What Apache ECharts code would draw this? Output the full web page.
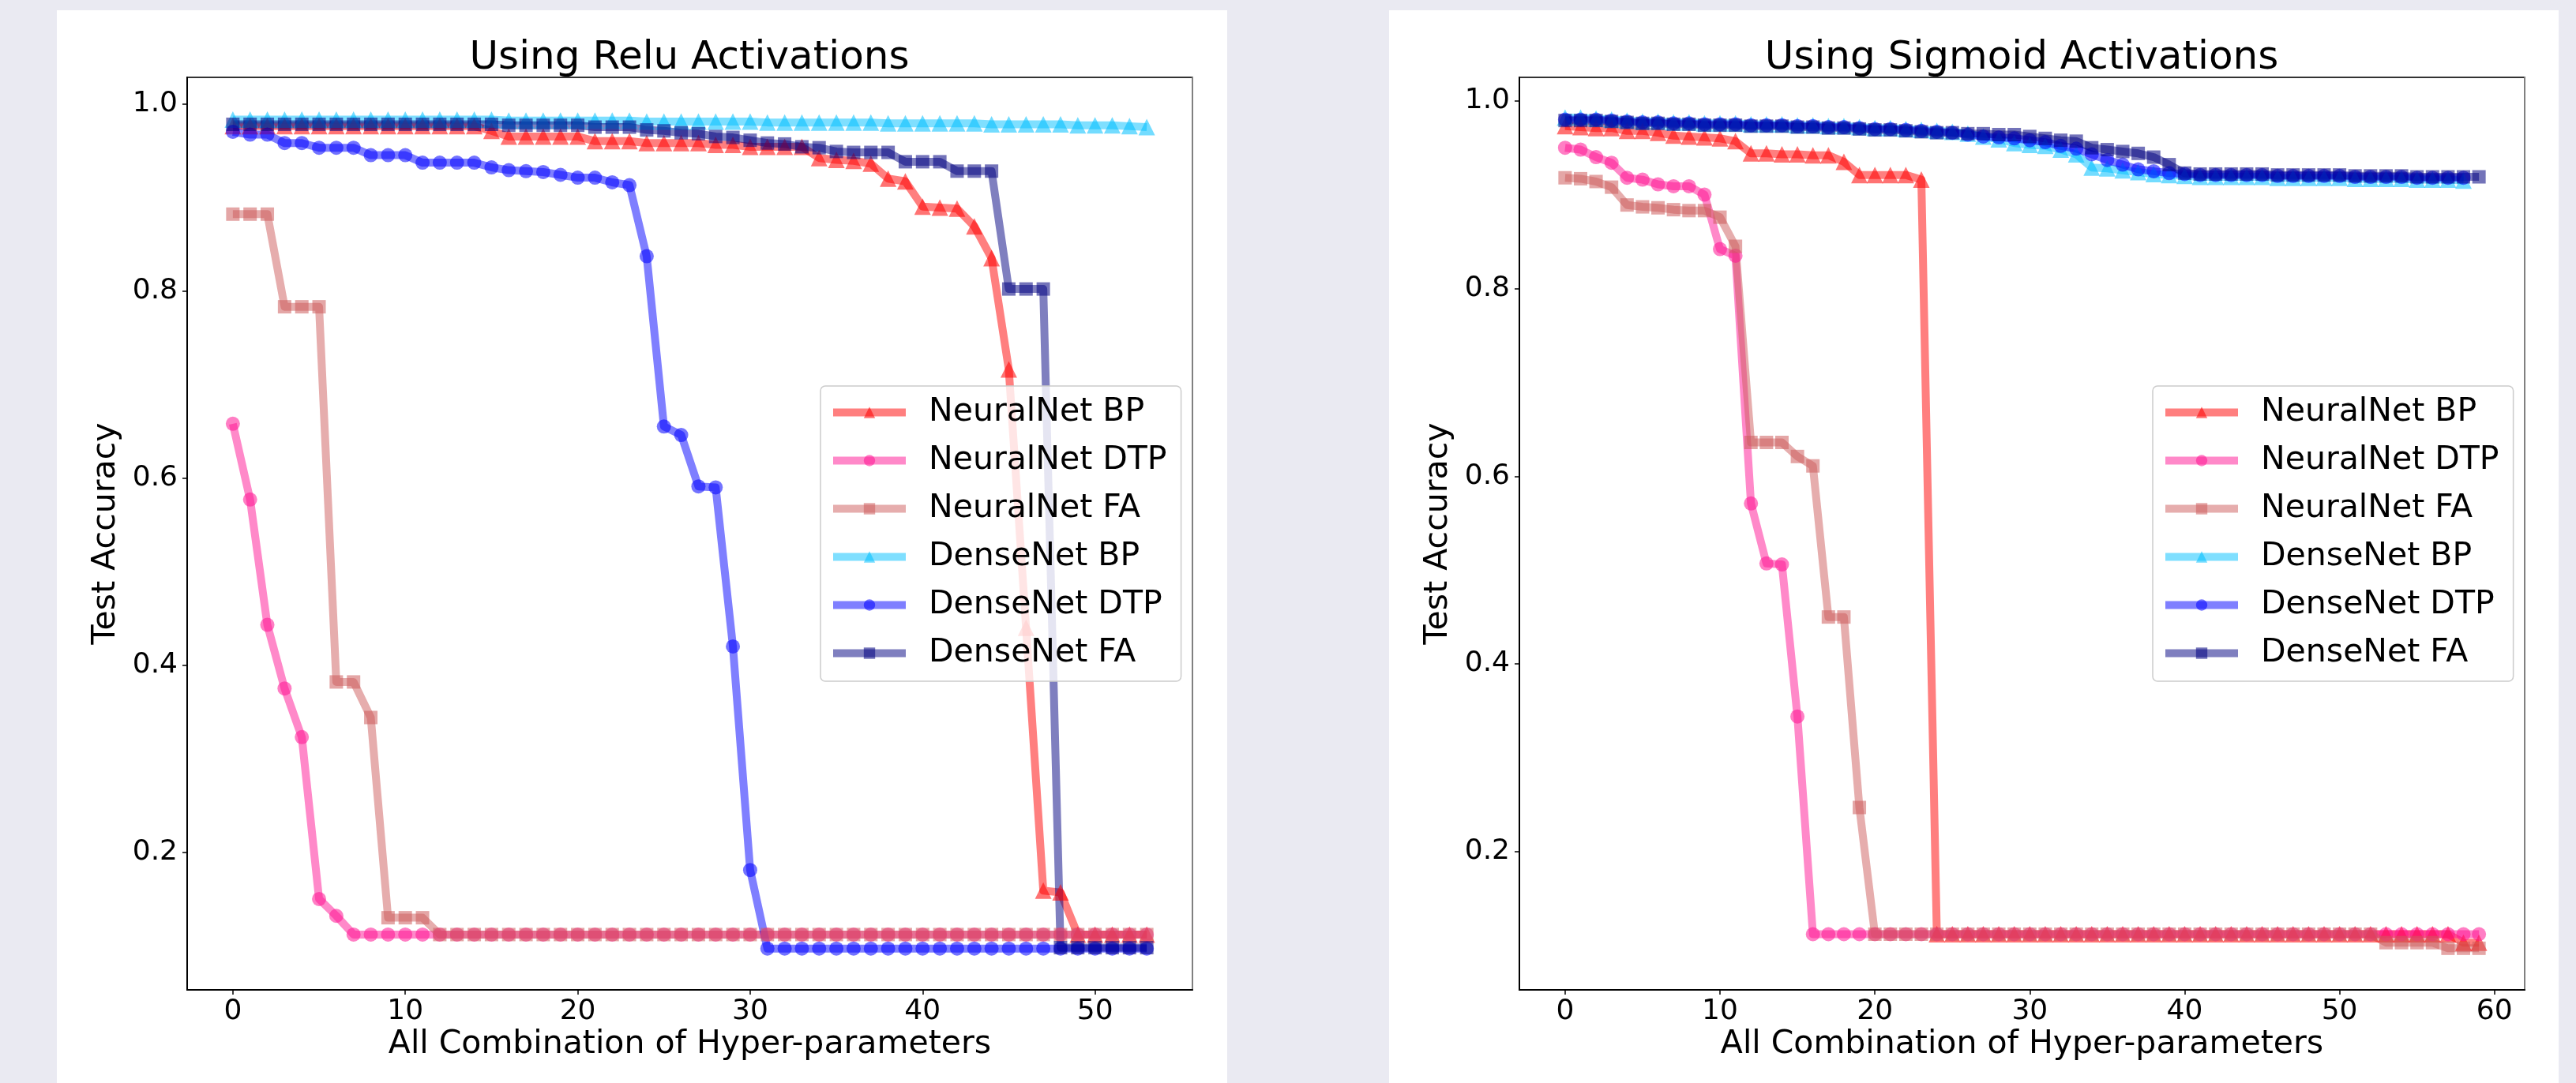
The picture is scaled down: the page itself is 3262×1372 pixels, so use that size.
<!DOCTYPE html>
<html>
<head>
<meta charset="utf-8">
<title>Test Accuracy</title>
<script src="https://cdn.jsdelivr.net/npm/echarts/dist/echarts.min.js"></script>
<style>
  html, body { margin: 0; padding: 0; }
  #page { position: relative; width: 3262px; height: 1372px; background: #eaeaf2; overflow: hidden; }
  .panel { position: absolute; top: 13px; height: 1359px; background: #fff; }
  #chart { position: absolute; left: 0; top: 0; width: 3262px; height: 1372px; }
</style>
</head>
<body>
<div id="page">
  <div class="panel" style="left:72px;width:1482px"></div>
  <div class="panel" style="left:1759px;width:1481px"></div>
  <div id="chart"></div>
</div>
<script>
const seriesNames = ['NeuralNet BP', 'NeuralNet DTP', 'NeuralNet FA', 'DenseNet BP', 'DenseNet DTP', 'DenseNet FA']
const xTicksRelu = [0, 10, 20, 30, 40, 50]
const xTicksSigmoid = [0, 10, 20, 30, 40, 50, 60]
const yTicks = [0.2, 0.4, 0.6, 0.8, 1.0]

// relu panel, 54 runs
const reluNeuralBP = [
  0.976, 0.976, 0.976, 0.976, 0.976, 0.976, 0.976, 0.976, 0.976, 0.976, 0.976, 0.976, 0.976, 0.976, 0.976,
  0.971, 0.965, 0.965, 0.965, 0.965, 0.965, 0.960, 0.960, 0.960, 0.958, 0.958, 0.958, 0.958, 0.956, 0.956,
  0.954, 0.954, 0.954, 0.954, 0.942, 0.940, 0.939, 0.936, 0.920, 0.917, 0.890, 0.889, 0.888, 0.869, 0.835,
  0.716, 0.440, 0.159, 0.157, 0.112, 0.112, 0.112, 0.112, 0.112]
const reluNeuralDTP = [
  0.658, 0.577, 0.443, 0.375, 0.323, 0.150, 0.132, 0.112, 0.112, 0.112,
  0.112, 0.112, 0.112, 0.112, 0.112, 0.112, 0.112, 0.112, 0.112, 0.112,
  0.112, 0.112, 0.112, 0.112, 0.112, 0.112, 0.112, 0.112, 0.112, 0.112,
  0.112, 0.112, 0.112, 0.112, 0.112, 0.112, 0.112, 0.112, 0.112, 0.112,
  0.112, 0.112, 0.112, 0.112, 0.112, 0.112, 0.112, 0.112, 0.112, 0.112,
  0.112, 0.112, 0.112, 0.112]
const reluNeuralFA = [
  0.882, 0.882, 0.882, 0.783, 0.783, 0.783, 0.382, 0.382, 0.344, 0.130,
  0.130, 0.130, 0.112, 0.112, 0.112, 0.112, 0.112, 0.112, 0.112, 0.112,
  0.112, 0.112, 0.112, 0.112, 0.112, 0.112, 0.112, 0.112, 0.112, 0.112,
  0.112, 0.112, 0.112, 0.112, 0.112, 0.112, 0.112, 0.112, 0.112, 0.112,
  0.112, 0.112, 0.112, 0.112, 0.112, 0.112, 0.112, 0.112, 0.112, 0.112,
  0.112, 0.112, 0.112, 0.112]
const reluDenseBP = [
  0.983, 0.983, 0.983, 0.983, 0.983, 0.983, 0.983, 0.983, 0.983, 0.983,
  0.983, 0.983, 0.983, 0.983, 0.983, 0.983, 0.982, 0.982, 0.982, 0.982,
  0.982, 0.982, 0.982, 0.982, 0.981, 0.981, 0.981, 0.981, 0.981, 0.981,
  0.981, 0.980, 0.980, 0.980, 0.980, 0.980, 0.980, 0.980, 0.979, 0.979,
  0.979, 0.979, 0.979, 0.979, 0.978, 0.978, 0.978, 0.978, 0.978, 0.977,
  0.977, 0.977, 0.976, 0.975]
const reluDenseDTP = [
  0.970, 0.967, 0.967, 0.958, 0.958, 0.953, 0.953, 0.953, 0.945, 0.945,
  0.945, 0.937, 0.937, 0.937, 0.937, 0.932, 0.929, 0.928, 0.927, 0.924,
  0.921, 0.921, 0.916, 0.913, 0.837, 0.655, 0.646, 0.591, 0.590, 0.420,
  0.181, 0.097, 0.097, 0.097, 0.097, 0.097, 0.097, 0.097, 0.097, 0.097,
  0.097, 0.097, 0.097, 0.097, 0.097, 0.097, 0.097, 0.097, 0.097, 0.097,
  0.097, 0.097, 0.097, 0.097]
const reluDenseFA = [
  0.978, 0.978, 0.978, 0.978, 0.978, 0.978, 0.978, 0.978, 0.978, 0.978,
  0.978, 0.978, 0.978, 0.978, 0.978, 0.978, 0.977, 0.977, 0.977, 0.977,
  0.977, 0.975, 0.975, 0.975, 0.972, 0.971, 0.969, 0.968, 0.965, 0.964,
  0.961, 0.958, 0.957, 0.954, 0.953, 0.949, 0.948, 0.948, 0.948, 0.938,
  0.938, 0.938, 0.928, 0.928, 0.928, 0.802, 0.802, 0.802, 0.098, 0.098,
  0.098, 0.098, 0.098, 0.098]

// sigmoid panel, 60 runs (dense BP / DTP stop at 59)
const sigNeuralBP = [
  0.973, 0.972, 0.971, 0.971, 0.968, 0.968, 0.966, 0.963, 0.962, 0.961,
  0.960, 0.957, 0.944, 0.944, 0.943, 0.943, 0.942, 0.942, 0.935, 0.921,
  0.921, 0.921, 0.921, 0.916, 0.112, 0.112, 0.112, 0.112, 0.112, 0.112,
  0.112, 0.112, 0.112, 0.112, 0.112, 0.112, 0.112, 0.112, 0.112, 0.112,
  0.112, 0.112, 0.112, 0.112, 0.112, 0.112, 0.112, 0.112, 0.112, 0.112,
  0.112, 0.112, 0.112, 0.112, 0.112, 0.112, 0.112, 0.112, 0.103, 0.103]
const sigNeuralDTP = [
  0.950, 0.948, 0.940, 0.934, 0.918, 0.916, 0.911, 0.909, 0.909, 0.900,
  0.842, 0.835, 0.571, 0.507, 0.506, 0.344, 0.112, 0.112, 0.112, 0.112,
  0.112, 0.112, 0.112, 0.112, 0.112, 0.112, 0.112, 0.112, 0.112, 0.112,
  0.112, 0.112, 0.112, 0.112, 0.112, 0.112, 0.112, 0.112, 0.112, 0.112,
  0.112, 0.112, 0.112, 0.112, 0.112, 0.112, 0.112, 0.112, 0.112, 0.112,
  0.112, 0.112, 0.112, 0.112, 0.112, 0.112, 0.112, 0.112, 0.112, 0.112]
const sigNeuralFA = [
  0.918, 0.917, 0.914, 0.908, 0.889, 0.887, 0.886, 0.884, 0.883, 0.883,
  0.876, 0.845, 0.636, 0.636, 0.636, 0.621, 0.611, 0.450, 0.450, 0.247,
  0.112, 0.112, 0.112, 0.112, 0.112, 0.112, 0.112, 0.112, 0.112, 0.112,
  0.112, 0.112, 0.112, 0.112, 0.112, 0.112, 0.112, 0.112, 0.112, 0.112,
  0.112, 0.112, 0.112, 0.112, 0.112, 0.112, 0.112, 0.112, 0.112, 0.112,
  0.112, 0.112, 0.112, 0.103, 0.103, 0.103, 0.103, 0.097, 0.097, 0.097]
const sigDenseBP = [
  0.982, 0.982, 0.981, 0.980, 0.979, 0.978, 0.978, 0.977, 0.977, 0.976,
  0.976, 0.976, 0.975, 0.975, 0.975, 0.974, 0.974, 0.973, 0.973, 0.972,
  0.971, 0.971, 0.970, 0.969, 0.968, 0.967, 0.965, 0.962, 0.959, 0.955,
  0.953, 0.952, 0.948, 0.943, 0.929, 0.928, 0.926, 0.924, 0.922, 0.921,
  0.920, 0.919, 0.919, 0.919, 0.919, 0.919, 0.918, 0.918, 0.918, 0.918,
  0.918, 0.917, 0.917, 0.917, 0.917, 0.916, 0.916, 0.916, 0.915]
const sigDenseDTP = [
  0.980, 0.980, 0.980, 0.979, 0.978, 0.977, 0.977, 0.976, 0.976, 0.975,
  0.975, 0.975, 0.974, 0.974, 0.974, 0.973, 0.973, 0.972, 0.972, 0.971,
  0.970, 0.970, 0.969, 0.968, 0.967, 0.966, 0.964, 0.962, 0.961, 0.960,
  0.958, 0.956, 0.952, 0.949, 0.943, 0.937, 0.932, 0.927, 0.925, 0.923,
  0.922, 0.921, 0.921, 0.921, 0.921, 0.921, 0.920, 0.920, 0.920, 0.920,
  0.920, 0.919, 0.919, 0.919, 0.919, 0.918, 0.918, 0.918, 0.918]
const sigDenseFA = [
  0.979, 0.979, 0.979, 0.978, 0.977, 0.976, 0.976, 0.975, 0.975, 0.974,
  0.974, 0.974, 0.973, 0.973, 0.973, 0.972, 0.972, 0.971, 0.971, 0.970,
  0.969, 0.969, 0.968, 0.967, 0.966, 0.966, 0.965, 0.965, 0.964, 0.964,
  0.962, 0.960, 0.958, 0.957, 0.950, 0.948, 0.946, 0.944, 0.940, 0.932,
  0.923, 0.922, 0.922, 0.922, 0.922, 0.922, 0.921, 0.921, 0.921, 0.921,
  0.921, 0.920, 0.920, 0.920, 0.920, 0.919, 0.919, 0.919, 0.919, 0.919]

const font = 'DejaVu Sans'
const looks = [
  { rgb: '255,0,0', symbol: 'triangle', size: 21 },
  { rgb: '255,20,147', symbol: 'circle', size: 18 },
  { rgb: '205,92,92', symbol: 'rect', size: 17 },
  { rgb: '0,191,255', symbol: 'triangle', size: 21 },
  { rgb: '0,0,255', symbol: 'circle', size: 18 },
  { rgb: '0,0,128', symbol: 'rect', size: 17 }
]

function lineSeries(idx, values, panel) {
  const look = looks[idx]
  const line = 'rgba(' + look.rgb + ',0.5)'
  const mark = 'rgba(' + look.rgb + ',0.55)'
  return {
    name: seriesNames[idx],
    type: 'line',
    xAxisIndex: panel,
    yAxisIndex: panel * 2,
    data: values.map((v, i) => [i, v]),
    symbol: look.symbol,
    symbolSize: look.size,
    showSymbol: true,
    showAllSymbol: true,
    lineStyle: { color: line, width: 10, join: 'round' },
    itemStyle: { color: mark, borderWidth: 0 },
    emphasis: { disabled: true },
    silent: true
  }
}

function xAxisFor(gridIndex, min, max, ticks) {
  return {
    gridIndex: gridIndex,
    type: 'value',
    min: min,
    max: max,
    axisLine: { show: true, onZero: false, lineStyle: { color: '#000', width: 2 } },
    axisTick: { show: true, length: 6, customValues: ticks, lineStyle: { color: '#000', width: 1.5 } },
    axisLabel: { customValues: ticks, margin: 10, fontFamily: font, fontSize: 36, color: '#000' },
    splitLine: { show: false },
    name: 'All Combination of Hyper-parameters',
    nameLocation: 'middle',
    nameGap: 49,
    nameMoveOverlap: false,
    nameTextStyle: { fontFamily: font, fontSize: 41, color: '#000' }
  }
}

function yAxisFor(gridIndex, min, max) {
  return {
    gridIndex: gridIndex,
    type: 'value',
    min: min,
    max: max,
    axisLine: { show: true, onZero: false, lineStyle: { color: '#000', width: 2 } },
    axisTick: { show: true, length: 6, customValues: yTicks, lineStyle: { color: '#000', width: 1.5 } },
    axisLabel: {
      customValues: yTicks,
      margin: 12,
      fontFamily: font,
      fontSize: 36,
      color: '#000',
      formatter: v => v.toFixed(1)
    },
    splitLine: { show: false },
    name: 'Test Accuracy',
    nameLocation: 'middle',
    nameRotate: 90,
    nameGap: 82,
    nameMoveOverlap: false,
    nameTextStyle: { fontFamily: font, fontSize: 41, color: '#000' }
  }
}

// plain right spine, drawn a bit lighter than the others
function rightSpine(gridIndex) {
  return {
    gridIndex: gridIndex,
    type: 'value',
    position: 'right',
    min: 0,
    max: 1,
    axisLine: { show: true, onZero: false, lineStyle: { color: '#808080', width: 2 } },
    axisTick: { show: false },
    axisLabel: { show: false },
    splitLine: { show: false }
  }
}

function legendAt(left) {
  return {
    data: seriesNames,
    orient: 'vertical',
    left: left,
    top: 489,
    itemWidth: 92,
    itemHeight: 18,
    itemGap: 20,
    padding: [13, 18, 15, 11],
    backgroundColor: 'rgba(255,255,255,0.8)',
    borderColor: '#cccccc',
    borderWidth: 1.5,
    borderRadius: 6,
    selectedMode: false,
    lineStyle: { width: 10 },
    textStyle: { fontFamily: font, fontSize: 41, lineHeight: 41, color: '#000', padding: [0, 0, 0, 24] }
  }
}

function titleAt(text, center) {
  return {
    text: text,
    left: center,
    top: 49,
    textAlign: 'center',
    padding: 0,
    textStyle: { fontFamily: font, fontSize: 50, fontWeight: 'normal', color: '#000' }
  }
}

const chart = echarts.init(document.getElementById('chart'))
chart.setOption({
  animation: false,
  title: [
    titleAt('Using Relu Activations', 873),
    titleAt('Using Sigmoid Activations', 2560)
  ],
  legend: [legendAt(1039), legendAt(2726)],
  grid: [
    { left: 237, top: 98, width: 1273, height: 1156, show: true, borderColor: '#333', borderWidth: 2, containLabel: false, outerBoundsMode: 'none' },
    { left: 1924, top: 98, width: 1273, height: 1156, show: true, borderColor: '#333', borderWidth: 2, containLabel: false, outerBoundsMode: 'none' }
  ],
  xAxis: [
    xAxisFor(0, -2.65, 55.65, xTicksRelu),
    xAxisFor(1, -2.95, 61.95, xTicksSigmoid)
  ],
  yAxis: [
    yAxisFor(0, 0.0529, 1.0282),
    rightSpine(0),
    yAxisFor(1, 0.0527, 1.0250),
    rightSpine(1)
  ],
  series: [
    lineSeries(0, reluNeuralBP, 0),
    lineSeries(1, reluNeuralDTP, 0),
    lineSeries(2, reluNeuralFA, 0),
    lineSeries(3, reluDenseBP, 0),
    lineSeries(4, reluDenseDTP, 0),
    lineSeries(5, reluDenseFA, 0),
    lineSeries(0, sigNeuralBP, 1),
    lineSeries(1, sigNeuralDTP, 1),
    lineSeries(2, sigNeuralFA, 1),
    lineSeries(3, sigDenseBP, 1),
    lineSeries(4, sigDenseDTP, 1),
    lineSeries(5, sigDenseFA, 1)
  ]
})
</script>
</body>
</html>
